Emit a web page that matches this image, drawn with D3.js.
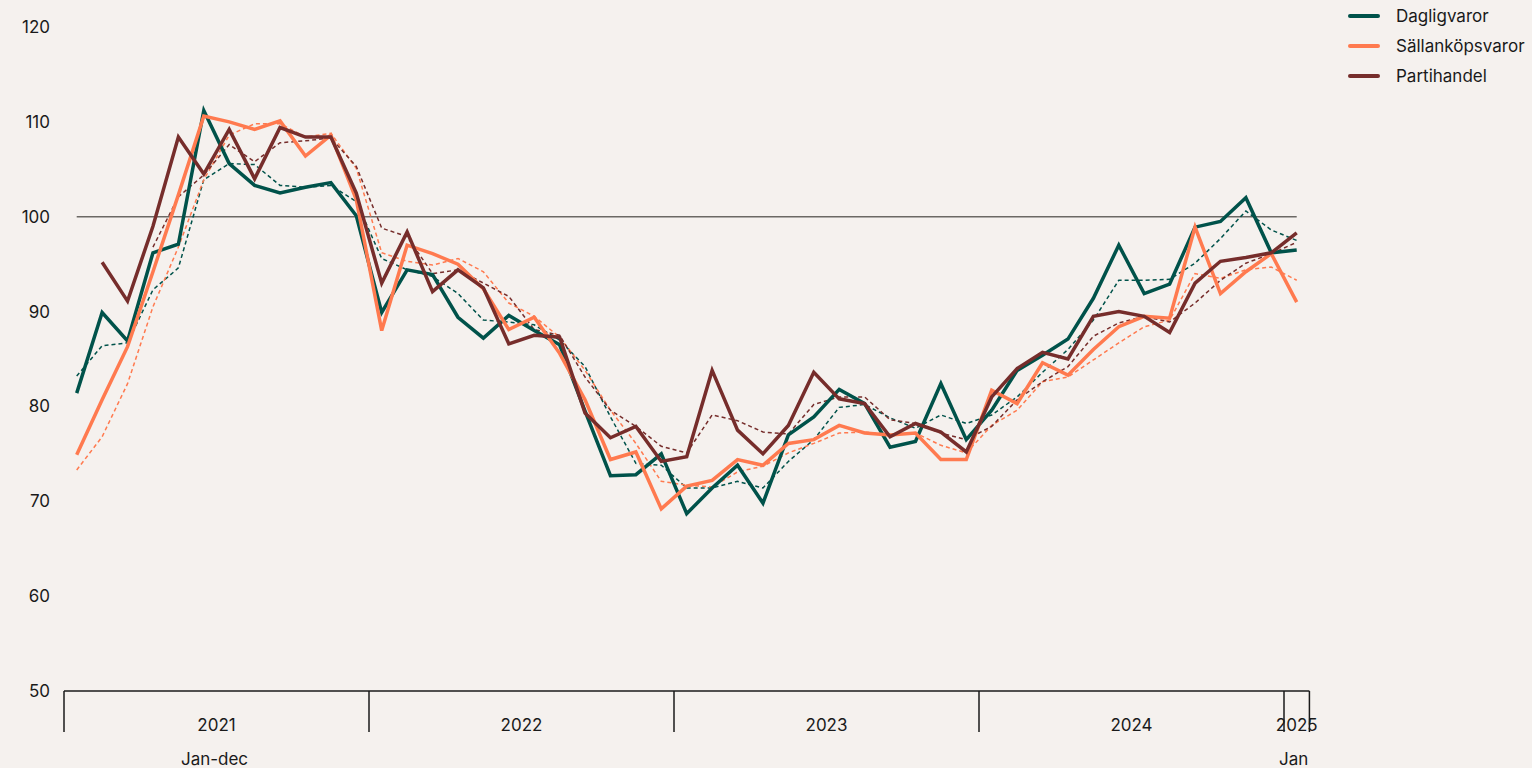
<!DOCTYPE html>
<html>
<head>
<meta charset="utf-8">
<script src="https://cdn.jsdelivr.net/npm/d3@7"></script>
<style>
  body { margin: 0; background: #f5f1ee; }
  svg text { font-family: Inter, "Liberation Sans", sans-serif; fill: #1a1a1a; }
</style>
</head>
<body>
<svg id="chart"></svg>
<script>
// monthly index, Jan 2021 - Jan 2025 (49 months)
var years = ["2021", "2022", "2023", "2024", "2025"];
var yTicks = [50, 60, 70, 80, 90, 100, 110, 120];

var dagligvaror = [81.4, 89.9, 86.9, 96.2, 97.1, 111.2, 105.6, 103.3, 102.5, 103.1, 103.6, 100.1,
  89.9, 94.4, 93.9, 89.4, 87.2, 89.6, 88.0, 86.5, 79.5, 72.7, 72.8, 75.0,
  68.7, 71.4, 73.8, 69.8, 77.0, 78.9, 81.8, 80.3, 75.7, 76.3, 82.4, 76.5,
  79.6, 83.8, 85.4, 87.1, 91.4, 97.0, 91.9, 92.9, 98.9, 99.5, 102.0, 96.2, 96.5];
var dagligTrend = [83.2, 86.4, 86.7, 92.3, 94.6, 103.9, 105.6, 105.5, 103.3, 103.1, 103.3, 101.6,
  95.6, 94.4, 93.7, 91.9, 89.1, 88.9, 88.6, 87.0, 84.2, 78.9, 74.0, 73.8,
  71.4, 71.4, 72.1, 71.4, 74.2, 76.5, 79.9, 80.2, 78.8, 77.7, 79.1, 78.2,
  79.1, 81.0, 83.6, 86.0, 89.1, 93.3, 93.3, 93.4, 95.1, 97.7, 100.6, 98.6, 97.5];

var sallan = [74.9, 80.7, 86.3, 94.2, 102.3, 110.6, 110.0, 109.2, 110.1, 106.4, 108.6, 101.8,
  88.0, 97.0, 96.1, 95.0, 92.4, 88.1, 89.4, 85.6, 80.7, 74.4, 75.2, 69.2,
  71.6, 72.2, 74.4, 73.8, 76.1, 76.5, 78.0, 77.2, 77.0, 77.2, 74.4, 74.4,
  81.7, 80.3, 84.6, 83.3, 86.0, 88.4, 89.5, 89.3, 98.9, 91.9, 94.2, 96.1, 91.0];
var sallanTrend = [73.3, 76.8, 82.4, 90.5, 96.8, 103.9, 108.6, 109.8, 109.8, 108.4, 108.8, 105.1,
  96.2, 95.3, 94.9, 95.6, 94.2, 90.9, 89.5, 87.3, 83.8, 79.6, 76.1, 72.1,
  71.7, 71.5, 73.1, 73.7, 75.1, 76.1, 77.2, 77.3, 77.0, 77.2, 75.9, 75.1,
  78.0, 79.6, 82.6, 83.1, 84.9, 86.7, 88.4, 89.1, 94.0, 93.5, 94.4, 94.7, 93.3];

var partihandel = [null, 95.2, 91.1, 99.0, 108.4, 104.5, 109.2, 104.0, 109.4, 108.4, 108.4, 102.5,
  93.0, 98.4, 92.1, 94.4, 92.5, 86.6, 87.5, 87.3, 79.3, 76.7, 77.9, 74.2,
  74.7, 83.8, 77.5, 75.0, 78.0, 83.6, 80.8, 80.3, 76.8, 78.2, 77.3, 75.2,
  81.0, 84.0, 85.7, 85.0, 89.5, 90.0, 89.5, 87.8, 93.0, 95.3, 95.7, 96.2, 98.3];
var partiTrend = [null, null, null, 96.8, 102.1, 104.4, 107.6, 105.8, 107.8, 108.0, 108.3, 105.3,
  98.8, 97.9, 94.0, 94.4, 93.0, 91.6, 88.1, 87.5, 83.1, 79.6, 77.9, 75.8,
  75.1, 79.1, 78.5, 77.3, 77.1, 80.2, 81.0, 81.0, 78.6, 78.2, 77.2, 76.5,
  77.9, 80.7, 82.6, 84.2, 87.4, 88.8, 89.5, 88.9, 90.9, 93.3, 95.1, 96.1, 97.3];

var series = [
  { name: "Dagligvaror", color: "#00524a", values: dagligvaror, trend: dagligTrend },
  { name: "Sällanköpsvaror", color: "#ff7a4f", values: sallan, trend: sallanTrend },
  { name: "Partihandel", color: "#762d2b", values: partihandel, trend: partiTrend }
];

var width = 1532, height = 768;
var svg = d3.select("#chart").attr("width", width).attr("height", height);

var nMonths = dagligvaror.length;
var x0 = 64, monthW = 305 / 12;

// band scale for months
var x = d3.scaleBand()
  .domain(d3.range(nMonths))
  .range([x0, x0 + monthW * nMonths])
  .paddingInner(0).paddingOuter(0);
var xc = function(i) { return x(i) + x.bandwidth() / 2; };

var y = d3.scaleLinear().domain([50, 120]).range([691, 27]);

// y tick labels
svg.append("g").selectAll("text")
  .data(yTicks)
  .enter().append("text")
  .attr("x", 50)
  .attr("y", function(d) { return y(d); })
  .attr("dy", "0.35em")
  .attr("text-anchor", "end")
  .style("font-size", "17px")
  .text(function(d) { return d; });

// reference line at 100
svg.append("line")
  .attr("x1", xc(0)).attr("x2", xc(nMonths - 1))
  .attr("y1", y(100)).attr("y2", y(100))
  .attr("stroke", "#6b6864").attr("stroke-width", 1.5);

// x axis: years as groups
var xEnd = x0 + monthW * nMonths;
var yearStart = function(k) { return x(k * 12); };
var yearEnd = function(k) { return k * 12 + 12 >= nMonths ? xEnd : x(k * 12 + 12); };

var axis = svg.append("g");
axis.append("line")
  .attr("x1", x0).attr("x2", xEnd)
  .attr("y1", y(50)).attr("y2", y(50))
  .attr("stroke", "#1a1a1a").attr("stroke-width", 1.5);

var tickXs = years.map(function(d, k) { return yearStart(k); }).concat([xEnd]);
axis.selectAll(".tick")
  .data(tickXs)
  .enter().append("line")
  .attr("x1", function(d) { return d; }).attr("x2", function(d) { return d; })
  .attr("y1", y(50)).attr("y2", y(50) + 41)
  .attr("stroke", "#1a1a1a").attr("stroke-width", 1.5);

axis.selectAll(".yr")
  .data(years)
  .enter().append("text")
  .attr("x", function(d, k) { return (yearStart(k) + yearEnd(k)) / 2; })
  .attr("y", 731)
  .attr("text-anchor", "middle")
  .style("font-size", "17px")
  .text(function(d) { return d; });

axis.append("text")
  .attr("x", (yearStart(0) + yearEnd(0)) / 2 - 2).attr("y", 765)
  .attr("text-anchor", "middle").style("font-size", "17px")
  .text("Jan-dec");
axis.append("text")
  .attr("x", (yearStart(4) + yearEnd(4)) / 2 - 3).attr("y", 765)
  .attr("text-anchor", "middle").style("font-size", "17px")
  .text("Jan");

// lines
var line = d3.line()
  .defined(function(d) { return d != null; })
  .x(function(d, i) { return xc(i); })
  .y(function(d) { return y(d); });

svg.append("g").selectAll("path")
  .data(series)
  .enter().append("path")
  .attr("d", function(s) { return line(s.trend); })
  .attr("fill", "none")
  .attr("stroke", function(s) { return s.color; })
  .attr("stroke-width", 1.5)
  .attr("stroke-dasharray", "4,3");

svg.append("g").selectAll("path")
  .data(series)
  .enter().append("path")
  .attr("d", function(s) { return line(s.values); })
  .attr("fill", "none")
  .attr("stroke", function(s) { return s.color; })
  .attr("stroke-width", 3.5)
  .attr("stroke-linejoin", "miter");

// legend
var legend = svg.append("g").attr("transform", "translate(1350,16)");
var li = legend.selectAll("g")
  .data(series)
  .enter().append("g")
  .attr("transform", function(d, i) { return "translate(0," + (i * 30) + ")"; });
li.append("line")
  .attr("x1", 0).attr("x2", 28)
  .attr("stroke", function(d) { return d.color; })
  .attr("stroke-width", 4).attr("stroke-linecap", "round");
li.append("text")
  .attr("x", 46).attr("dy", "0.35em")
  .style("font-size", "17px")
  .text(function(d) { return d.name; });
</script>
</body>
</html>
